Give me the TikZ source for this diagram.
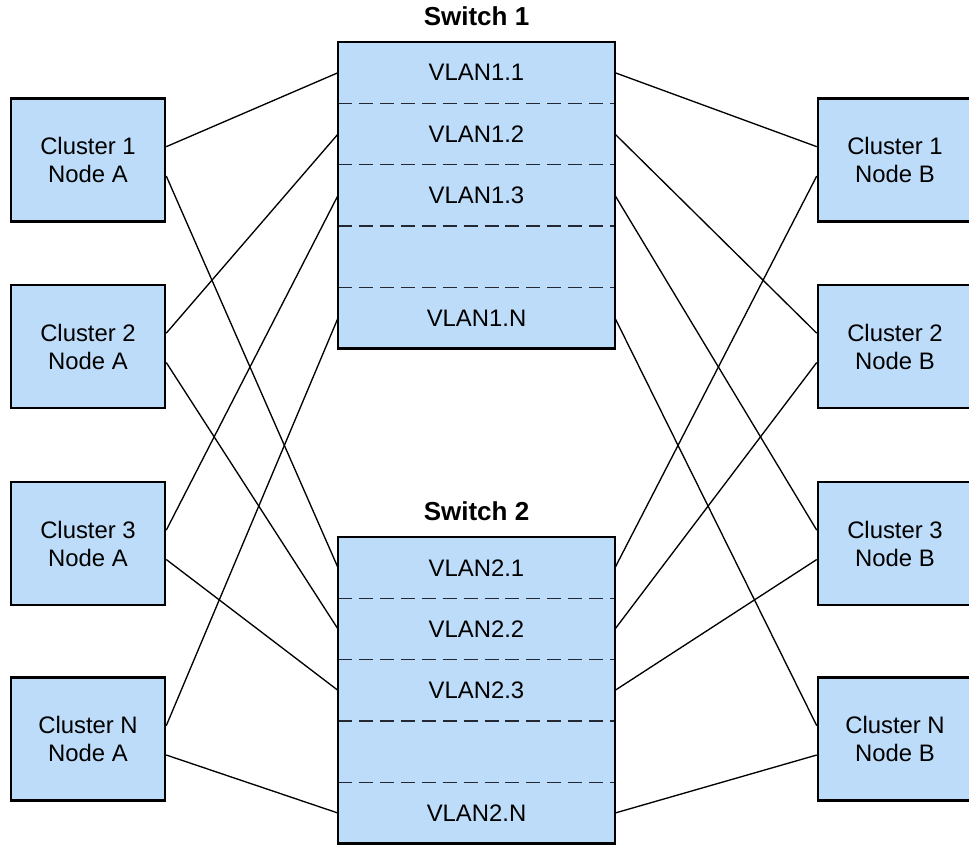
\documentclass[tikz,border=0pt]{standalone}
\usepackage{fontspec}
\setmainfont{Liberation Sans}
\usetikzlibrary{positioning}
\definecolor{vlanblue}{RGB}{189,220,249}
\definecolor{dashgray}{RGB}{35,40,50}

\begin{document}
\begin{tikzpicture}[x=0.75pt,y=-0.75pt,
	clusterbox/.style={draw=black,line width=1.9pt,fill=vlanblue,minimum width=115.5pt,minimum height=92pt,align=center,font=\fontsize{17.9}{21}\selectfont},
	vlanrow/.style={fill=vlanblue,minimum width=207.75pt,minimum height=46pt,inner sep=0pt,outer sep=0pt,font=\fontsize{17.9}{21}\selectfont},
	switchframe/.style={draw=black,line width=1.9pt},
	vlandash/.style={draw=dashgray,line width=1.1pt,dash pattern=on 10.5pt off 5.2pt},
	switchlabel/.style={font=\bfseries\fontsize{19.5}{23}\selectfont,inner sep=0pt},
	link/.style={line width=1pt}]
				\useasboundingbox (0,0) rectangle (969,844);
				% cluster nodes, side A
				\node[clusterbox] (c1a) at (88,160) {Cluster 1\\Node A};
				\node[clusterbox] (c2a) at (88,346.5) {Cluster 2\\Node A};
				\node[clusterbox] (c3a) at (88,543.5) {Cluster 3\\Node A};
				\node[clusterbox] (cna) at (88,739) {Cluster N\\Node A};
				% cluster nodes, side B
				\node[clusterbox] (c1b) at (895,160) {Cluster 1\\Node B};
				\node[clusterbox] (c2b) at (895,346.5) {Cluster 2\\Node B};
				\node[clusterbox] (c3b) at (895,543.5) {Cluster 3\\Node B};
				\node[clusterbox] (cnb) at (895,739) {Cluster N\\Node B};
				% switch 1
				\node[vlanrow] (v11) at (476.5,72.7) {VLAN1.1};
				\node[vlanrow,below=0pt of v11] (v12) {VLAN1.2};
				\node[vlanrow,below=0pt of v12] (v13) {VLAN1.3};
				\node[vlanrow,below=0pt of v13] (v1x) {};
				\node[vlanrow,below=0pt of v1x] (v1n) {VLAN1.N};
				\draw[vlandash] (v11.south west) -- (v11.south east);
				\draw[vlandash] (v12.south west) -- (v12.south east);
				\draw[vlandash] (v13.south west) -- (v13.south east);
				\draw[vlandash] (v1x.south west) -- (v1x.south east);
				\draw[switchframe] (v11.north west) rectangle (v1n.south east);
				\node[switchlabel,above=12pt of v11.north] (sw1) {Switch 1};
				% switch 2
				\node[vlanrow] (v21) at (476.5,567.7) {VLAN2.1};
				\node[vlanrow,below=0pt of v21] (v22) {VLAN2.2};
				\node[vlanrow,below=0pt of v22] (v23) {VLAN2.3};
				\node[vlanrow,below=0pt of v23] (v2x) {};
				\node[vlanrow,below=0pt of v2x] (v2n) {VLAN2.N};
				\draw[vlandash] (v21.south west) -- (v21.south east);
				\draw[vlandash] (v22.south west) -- (v22.south east);
				\draw[vlandash] (v23.south west) -- (v23.south east);
				\draw[vlandash] (v2x.south west) -- (v2x.south east);
				\draw[switchframe] (v21.north west) rectangle (v2n.south east);
				\node[switchlabel,above=12pt of v21.north] (sw2) {Switch 2};
				% links, side A
				\draw[link] ([yshift=10pt]c1a.east) -- (v11.west);
				\draw[link] ([yshift=-12pt]c1a.east) -- (v21.west);
				\draw[link] ([yshift=10pt]c2a.east) -- (v12.west);
				\draw[link] ([yshift=-12pt]c2a.east) -- (v22.west);
				\draw[link] ([yshift=10pt]c3a.east) -- (v13.west);
				\draw[link] ([yshift=-12pt]c3a.east) -- (v23.west);
				\draw[link] ([yshift=10pt]cna.east) -- (v1n.west);
				\draw[link] ([yshift=-12pt]cna.east) -- (v2n.west);
				% links, side B
				\draw[link] (v11.east) -- ([yshift=10pt]c1b.west);
				\draw[link] (v21.east) -- ([yshift=-12pt]c1b.west);
				\draw[link] (v12.east) -- ([yshift=10pt]c2b.west);
				\draw[link] (v22.east) -- ([yshift=-12pt]c2b.west);
				\draw[link] (v13.east) -- ([yshift=10pt]c3b.west);
				\draw[link] (v23.east) -- ([yshift=-12pt]c3b.west);
				\draw[link] (v1n.east) -- ([yshift=10pt]cnb.west);
				\draw[link] (v2n.east) -- ([yshift=-12pt]cnb.west);
			\end{tikzpicture}
\end{document}
